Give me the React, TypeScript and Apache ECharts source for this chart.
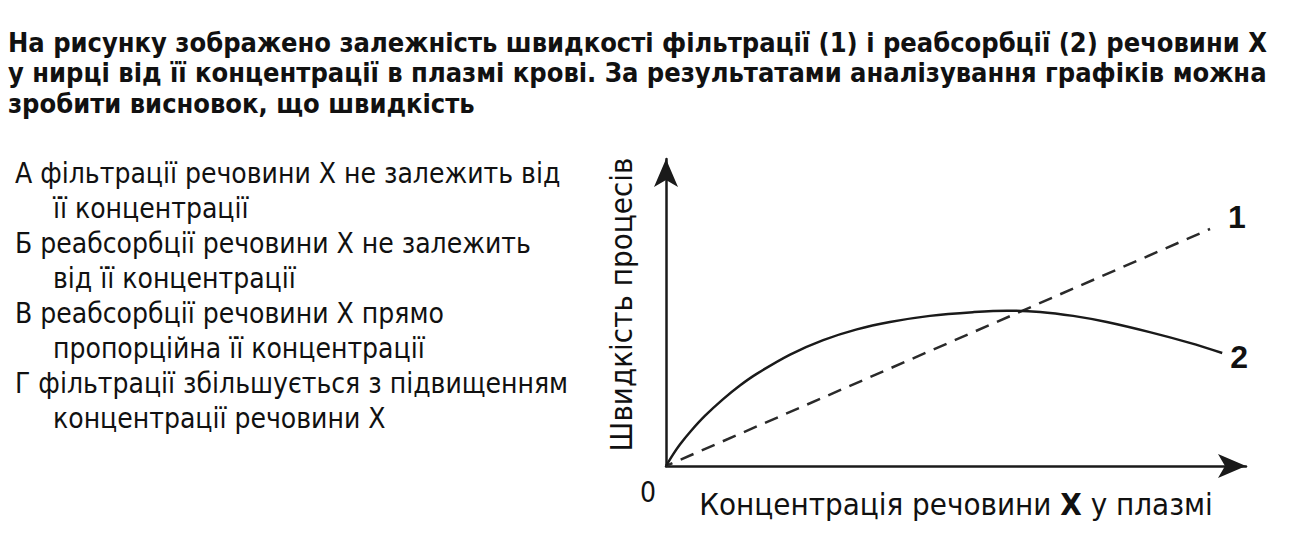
import React, { useEffect, useRef } from "react";
import * as echarts from "echarts";

const questionLines = [
  "На рисунку зображено залежність швидкості фільтрації (1) і реабсорбції (2) речовини Х",
  "у нирці від її концентрації в плазмі крові. За результатами аналізування графіків можна",
  "зробити висновок, що швидкість",
];

const optionLines = [
  { text: "А фільтрації речовини Х не залежить від", indent: false },
  { text: "її концентрації", indent: true },
  { text: "Б реабсорбції речовини Х не залежить", indent: false },
  { text: "від її концентрації", indent: true },
  { text: "В реабсорбції речовини Х прямо", indent: false },
  { text: "пропорційна її концентрації", indent: true },
  { text: "Г фільтрації збільшується з підвищенням", indent: false },
  { text: "концентрації речовини Х", indent: true },
];

// Series 1: filtration (dashed, straight line)
const filtrationX = [0, 9.38];
const filtrationY = [0, 7.72];

// Series 2: reabsorption (curve)
const reabsorptionX = [0, 0.12, 0.24, 0.43, 0.67, 0.98, 1.28, 1.57, 2.14, 2.71, 3.29, 3.86, 4.55, 5.29, 5.88, 6.45, 7.02, 7.6, 8.34, 9.03, 9.59];
const reabsorptionY = [0, 0.37, 0.7, 1.14, 1.63, 2.17, 2.63, 3.01, 3.63, 4.1, 4.45, 4.69, 4.89, 5.01, 5.06, 5.02, 4.89, 4.69, 4.36, 4.01, 3.68];

const NARROW = '"Liberation Sans Narrow", "DejaVu Sans Condensed", "Liberation Sans", Arial, sans-serif';
const BOLD_NARROW = '"Liberation Sans Narrow", "DejaVu Sans Condensed", "Liberation Sans", sans-serif';
const ARIAL = '"Liberation Sans", Arial, sans-serif';

export default function App() {
  const ref = useRef<HTMLDivElement>(null);

  useEffect(() => {
    if (!ref.current) return;
    const chart = echarts.init(ref.current, null, { renderer: "svg" });

    const graphics: any[] = [];
    questionLines.forEach((t, i) => {
      graphics.push({
        type: "text",
        x: 8,
        y: 42 + i * 30.5,
        style: {
          text: t,
          fontFamily: BOLD_NARROW,
          fontWeight: "bold",
          fontSize: 27,
          fill: "#111",
          verticalAlign: "middle",
          align: "left",
        },
      });
    });
    optionLines.forEach((o, i) => {
      graphics.push({
        type: "text",
        x: o.indent ? 53 : 15,
        y: 173 + i * 35,
        style: {
          text: o.text,
          fontFamily: NARROW,
          fontSize: 28,
          fill: "#111",
          verticalAlign: "middle",
          align: "left",
        },
      });
    });

    const axisLine = {
      show: true,
      symbol: ["none", "arrow"],
      symbolSize: [18, 28],
      lineStyle: { color: "#1a1a1a", width: 2.5 },
    };

    chart.setOption({
      animation: false,
      backgroundColor: "#ffffff",
      grid: { left: 666, top: 159, right: 64, bottom: 77, containLabel: false },
      xAxis: {
        type: "value",
        min: 0,
        max: 10,
        axisLine,
        axisTick: { show: false },
        splitLine: { show: false },
        axisLabel: {
          show: true,
          formatter: (v: number) => (v === 0 ? "0" : ""),
          fontFamily: NARROW,
          fontSize: 28,
          color: "#111",
          margin: 12,
          padding: [0, 36, 0, 0],
        },
        name: "{a|Концентрація речовини }{b|X}{a| у плазмі}",
        nameLocation: "middle",
        nameGap: 22,
        nameMoveOverlap: false,
        nameTextStyle: {
          rich: {
            a: { fontFamily: NARROW, fontSize: 31, color: "#111" },
            b: { fontFamily: NARROW, fontSize: 31, fontWeight: "bold", color: "#111" },
          },
        },
      },
      yAxis: {
        type: "value",
        min: 0,
        max: 10,
        axisLine,
        axisTick: { show: false },
        splitLine: { show: false },
        axisLabel: { show: false },
        name: "Швидкість процесів",
        nameLocation: "middle",
        nameGap: 30,
        nameMoveOverlap: false,
        nameTextStyle: { fontFamily: NARROW, fontSize: 31, color: "#111", padding: [0, 0, 0, 16] },
      },
      series: [
        {
          type: "line",
          name: "1",
          data: filtrationX.map((x, i) => [x, filtrationY[i]]),
          showSymbol: false,
          symbol: "none",
          lineStyle: { color: "#2a2a2a", width: 2.5, type: [14, 9], dashOffset: -16 },
          endLabel: {
            show: true,
            formatter: "1",
            fontFamily: ARIAL,
            fontWeight: "bold",
            fontSize: 32,
            color: "#111",
            distance: 18,
            offset: [0, -12],
          },
          z: 3,
        },
        {
          type: "line",
          name: "2",
          data: reabsorptionX.map((x, i) => [x, reabsorptionY[i]]),
          smooth: 0.35,
          showSymbol: false,
          symbol: "none",
          lineStyle: { color: "#1a1a1a", width: 2.5 },
          endLabel: {
            show: true,
            formatter: "2",
            fontFamily: ARIAL,
            fontWeight: "bold",
            fontSize: 32,
            color: "#111",
            distance: 8,
            offset: [0, 4],
          },
          z: 4,
        },
      ],
      graphic: graphics,
    });

    return () => chart.dispose();
  }, []);

  return (
    <div
      ref={ref}
      style={{ position: "fixed", left: 0, top: 0, width: 1310, height: 543, background: "#fff" }}
    />
  );
}
